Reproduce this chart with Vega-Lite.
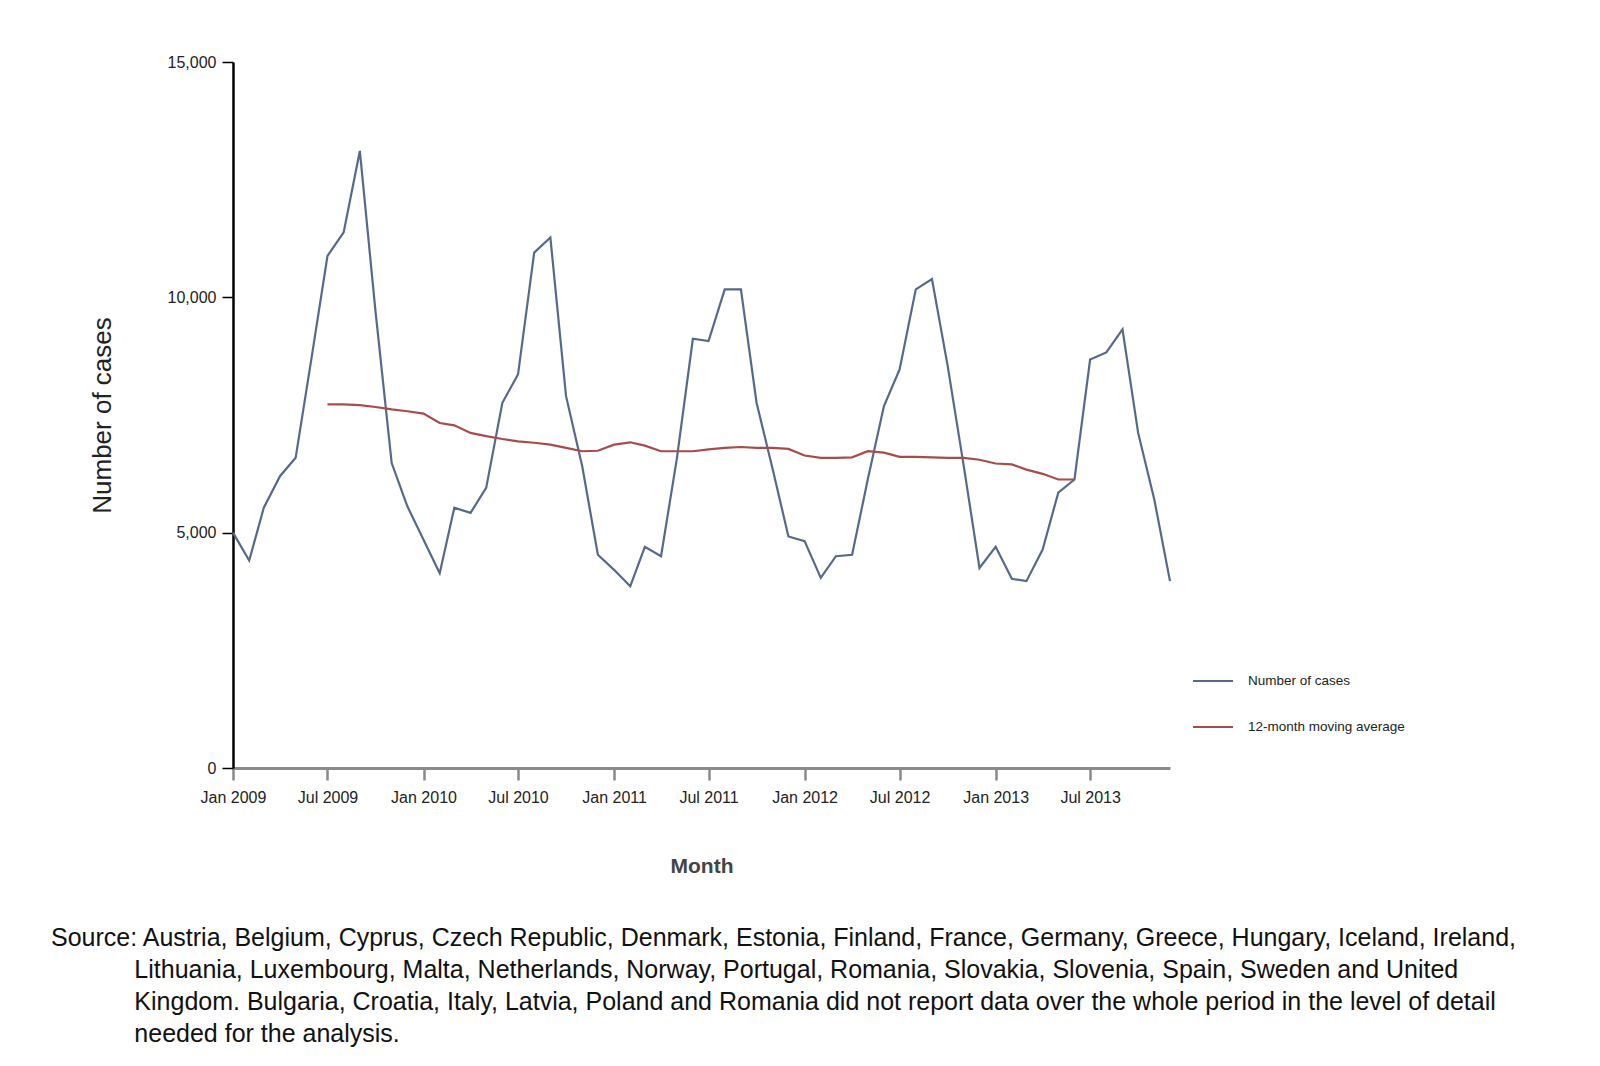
{
  "$schema": "https://vega.github.io/schema/vega-lite/v6.json",
  "width": 937,
  "height": 706,
  "autosize": {"type": "none"},
  "padding": {"left": 233, "top": 62, "right": 430, "bottom": 298},
  "background": "white",
  "config": {"view": {"stroke": null}, "font": "Liberation Sans"},
  "title": {
    "text": [
      "Source: Austria, Belgium, Cyprus, Czech Republic, Denmark, Estonia, Finland, France, Germany, Greece, Hungary, Iceland, Ireland,",
      "\u200b\u00a0\u00a0\u00a0\u00a0\u00a0\u00a0\u00a0\u00a0\u00a0\u00a0\u00a0\u00a0Lithuania, Luxembourg, Malta, Netherlands, Norway, Portugal, Romania, Slovakia, Slovenia, Spain, Sweden and United",
      "\u200b\u00a0\u00a0\u00a0\u00a0\u00a0\u00a0\u00a0\u00a0\u00a0\u00a0\u00a0\u00a0Kingdom. Bulgaria, Croatia, Italy, Latvia, Poland and Romania did not report data over the whole period in the level of detail",
      "\u200b\u00a0\u00a0\u00a0\u00a0\u00a0\u00a0\u00a0\u00a0\u00a0\u00a0\u00a0\u00a0needed for the analysis."
    ],
    "orient": "bottom",
    "anchor": "start",
    "frame": "group",
    "dx": -182,
    "offset": 50,
    "font": "Liberation Sans",
    "fontSize": 25,
    "fontWeight": "normal",
    "lineHeight": 32,
    "color": "#111111",
    "limit": 0
  },
  "data": {
    "values": [
      {"date": "2009-01-01", "Number of cases": 5000},
      {"date": "2009-02-01", "Number of cases": 4410},
      {"date": "2009-03-01", "Number of cases": 5530},
      {"date": "2009-04-01", "Number of cases": 6200},
      {"date": "2009-05-01", "Number of cases": 6590},
      {"date": "2009-06-01", "Number of cases": 8750},
      {"date": "2009-07-01", "Number of cases": 10880, "12-month moving average": 7725},
      {"date": "2009-08-01", "Number of cases": 11380, "12-month moving average": 7725},
      {"date": "2009-09-01", "Number of cases": 13110, "12-month moving average": 7710},
      {"date": "2009-10-01", "Number of cases": 9700, "12-month moving average": 7670},
      {"date": "2009-11-01", "Number of cases": 6480, "12-month moving average": 7620},
      {"date": "2009-12-01", "Number of cases": 5560, "12-month moving average": 7580},
      {"date": "2010-01-01", "Number of cases": 4850, "12-month moving average": 7530},
      {"date": "2010-02-01", "Number of cases": 4140, "12-month moving average": 7330},
      {"date": "2010-03-01", "Number of cases": 5530, "12-month moving average": 7280},
      {"date": "2010-04-01", "Number of cases": 5420, "12-month moving average": 7120},
      {"date": "2010-05-01", "Number of cases": 5950, "12-month moving average": 7050},
      {"date": "2010-06-01", "Number of cases": 7760, "12-month moving average": 6990},
      {"date": "2010-07-01", "Number of cases": 8360, "12-month moving average": 6940},
      {"date": "2010-08-01", "Number of cases": 10950, "12-month moving average": 6910},
      {"date": "2010-09-01", "Number of cases": 11270, "12-month moving average": 6870},
      {"date": "2010-10-01", "Number of cases": 7900, "12-month moving average": 6800},
      {"date": "2010-11-01", "Number of cases": 6410, "12-month moving average": 6730},
      {"date": "2010-12-01", "Number of cases": 4530, "12-month moving average": 6740},
      {"date": "2011-01-01", "Number of cases": 4210, "12-month moving average": 6870},
      {"date": "2011-02-01", "Number of cases": 3860, "12-month moving average": 6920},
      {"date": "2011-03-01", "Number of cases": 4700, "12-month moving average": 6850},
      {"date": "2011-04-01", "Number of cases": 4500, "12-month moving average": 6730},
      {"date": "2011-05-01", "Number of cases": 6550, "12-month moving average": 6730},
      {"date": "2011-06-01", "Number of cases": 9120, "12-month moving average": 6730},
      {"date": "2011-07-01", "Number of cases": 9070, "12-month moving average": 6770},
      {"date": "2011-08-01", "Number of cases": 10170, "12-month moving average": 6800},
      {"date": "2011-09-01", "Number of cases": 10170, "12-month moving average": 6820},
      {"date": "2011-10-01", "Number of cases": 7760, "12-month moving average": 6800},
      {"date": "2011-11-01", "Number of cases": 6340, "12-month moving average": 6800},
      {"date": "2011-12-01", "Number of cases": 4920, "12-month moving average": 6780},
      {"date": "2012-01-01", "Number of cases": 4820, "12-month moving average": 6640},
      {"date": "2012-02-01", "Number of cases": 4040, "12-month moving average": 6590},
      {"date": "2012-03-01", "Number of cases": 4500, "12-month moving average": 6590},
      {"date": "2012-04-01", "Number of cases": 4530, "12-month moving average": 6600},
      {"date": "2012-05-01", "Number of cases": 6130, "12-month moving average": 6730},
      {"date": "2012-06-01", "Number of cases": 7690, "12-month moving average": 6700},
      {"date": "2012-07-01", "Number of cases": 8470, "12-month moving average": 6610},
      {"date": "2012-08-01", "Number of cases": 10170, "12-month moving average": 6610},
      {"date": "2012-09-01", "Number of cases": 10390, "12-month moving average": 6600},
      {"date": "2012-10-01", "Number of cases": 8550, "12-month moving average": 6590},
      {"date": "2012-11-01", "Number of cases": 6410, "12-month moving average": 6590},
      {"date": "2012-12-01", "Number of cases": 4250, "12-month moving average": 6550},
      {"date": "2013-01-01", "Number of cases": 4700, "12-month moving average": 6470},
      {"date": "2013-02-01", "Number of cases": 4020, "12-month moving average": 6450},
      {"date": "2013-03-01", "Number of cases": 3970, "12-month moving average": 6340},
      {"date": "2013-04-01", "Number of cases": 4640, "12-month moving average": 6250},
      {"date": "2013-05-01", "Number of cases": 5850, "12-month moving average": 6130},
      {"date": "2013-06-01", "Number of cases": 6130, "12-month moving average": 6130},
      {"date": "2013-07-01", "Number of cases": 8680},
      {"date": "2013-08-01", "Number of cases": 8830},
      {"date": "2013-09-01", "Number of cases": 9320},
      {"date": "2013-10-01", "Number of cases": 7120},
      {"date": "2013-11-01", "Number of cases": 5700},
      {"date": "2013-12-01", "Number of cases": 3970}
    ]
  },
  "transform": [
    {"fold": ["Number of cases", "12-month moving average"], "as": ["series", "value"]},
    {"filter": "isValid(datum.value)"}
  ],
  "mark": {"type": "line", "strokeWidth": 2.2},
  "encoding": {
    "x": {
      "field": "date",
      "type": "temporal",
      "scale": {
        "type": "utc",
        "domain": [
          {"year": 2009, "month": 1, "date": 1, "utc": true},
          {"year": 2013, "month": 12, "date": 1, "utc": true}
        ]
      },
      "axis": {
        "title": "Month",
        "values": [
          {"year": 2009, "month": 1, "date": 1, "utc": true},
          {"year": 2009, "month": 7, "date": 1, "utc": true},
          {"year": 2010, "month": 1, "date": 1, "utc": true},
          {"year": 2010, "month": 7, "date": 1, "utc": true},
          {"year": 2011, "month": 1, "date": 1, "utc": true},
          {"year": 2011, "month": 7, "date": 1, "utc": true},
          {"year": 2012, "month": 1, "date": 1, "utc": true},
          {"year": 2012, "month": 7, "date": 1, "utc": true},
          {"year": 2013, "month": 1, "date": 1, "utc": true},
          {"year": 2013, "month": 7, "date": 1, "utc": true}
        ],
        "labelExpr": "utcFormat(datum.value, '%b %Y')",
        "grid": false,
        "domainColor": "#8a8a8a",
        "domainWidth": 3,
        "tickColor": "#8a8a8a",
        "tickWidth": 2.5,
        "tickSize": 12,
        "labelPadding": 9,
        "labelFont": "Liberation Sans",
        "labelFontSize": 16,
        "labelColor": "#222222",
        "labelFlush": false,
        "labelOverlap": false,
        "titleFont": "Liberation Sans",
        "titleFontSize": 21,
        "titleFontWeight": "bold",
        "titleColor": "#444444",
        "titleBaseline": "top",
        "titleY": 87
      }
    },
    "y": {
      "field": "value",
      "type": "quantitative",
      "scale": {"domain": [0, 15000], "nice": false},
      "axis": {
        "title": "Number of cases",
        "values": [0, 5000, 10000, 15000],
        "format": ",.0f",
        "grid": false,
        "domainColor": "#000000",
        "domainWidth": 2.5,
        "tickColor": "#000000",
        "tickWidth": 1.5,
        "tickSize": 11,
        "labelPadding": 6,
        "labelFont": "Liberation Sans",
        "labelFontSize": 16,
        "labelColor": "#222222",
        "titleFont": "Liberation Sans",
        "titleFontSize": 26,
        "titleFontWeight": "normal",
        "titleColor": "#222222",
        "titleX": -118,
        "titleY": 353
      }
    },
    "color": {
      "field": "series",
      "type": "nominal",
      "sort": ["Number of cases", "12-month moving average"],
      "scale": {"domain": ["Number of cases", "12-month moving average"], "range": ["#56698c", "#a84c4a"]},
      "legend": {
        "title": null,
        "orient": "none",
        "legendX": 959,
        "legendY": 598,
        "padding": 0,
        "symbolType": "stroke",
        "symbolSize": 1600,
        "symbolStrokeWidth": 2,
        "rowPadding": 18,
        "labelOffset": 14,
        "labelLimit": 0,
        "labelFont": "Liberation Sans",
        "labelFontSize": 13.5,
        "labelColor": "#222222"
      }
    }
  }
}
